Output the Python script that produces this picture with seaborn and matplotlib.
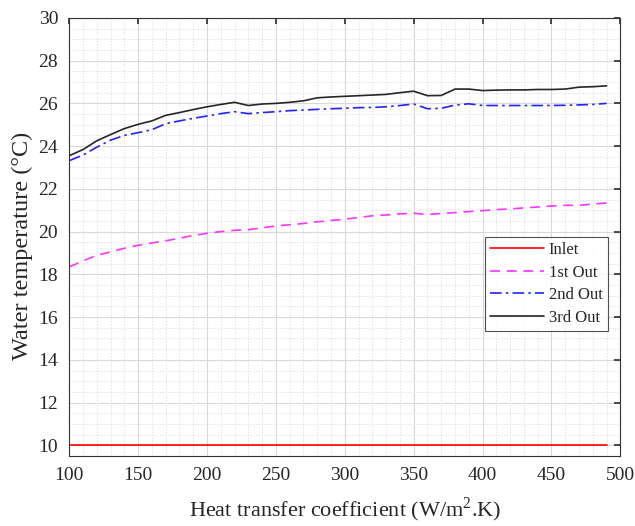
import numpy as np
import pandas as pd
import matplotlib
matplotlib.use("Agg")
import matplotlib.pyplot as plt
import seaborn as sns
from matplotlib.ticker import MultipleLocator

h = [100, 110, 120, 130, 140, 150, 160, 170, 180, 190,
     200, 210, 220, 230, 240, 250, 260, 270, 280, 290,
     300, 310, 320, 330, 340, 350, 360, 370, 380, 390,
     400, 410, 420, 430, 440, 450, 460, 470, 480, 490]

inlet = [10.0] * 40

out1 = [18.35, 18.63, 18.89, 19.05, 19.22, 19.36, 19.47, 19.57, 19.69, 19.82,
        19.92, 20.00, 20.06, 20.09, 20.18, 20.26, 20.32, 20.38, 20.46, 20.52,
        20.58, 20.66, 20.74, 20.78, 20.83, 20.86, 20.80, 20.85, 20.89, 20.94,
        20.98, 21.03, 21.06, 21.11, 21.15, 21.20, 21.23, 21.23, 21.29, 21.34]

out2 = [23.32, 23.58, 23.95, 24.28, 24.50, 24.63, 24.77, 25.05, 25.18, 25.30,
        25.41, 25.52, 25.61, 25.52, 25.57, 25.61, 25.66, 25.69, 25.72, 25.75,
        25.77, 25.80, 25.81, 25.84, 25.90, 25.97, 25.75, 25.77, 25.92, 25.98,
        25.90, 25.90, 25.90, 25.90, 25.90, 25.90, 25.91, 25.93, 25.95, 26.00]

out3 = [23.55, 23.84, 24.25, 24.54, 24.82, 25.02, 25.18, 25.44, 25.57, 25.71,
        25.84, 25.95, 26.05, 25.90, 25.97, 26.00, 26.05, 26.12, 26.26, 26.30,
        26.33, 26.36, 26.39, 26.42, 26.50, 26.57, 26.36, 26.37, 26.67, 26.67,
        26.60, 26.62, 26.63, 26.63, 26.65, 26.65, 26.67, 26.76, 26.78, 26.82]

labels = ["Inlet", "1st Out", "2nd Out", "3rd Out"]

sns.set_theme(style="white")
plt.rcParams['font.family'] = ['Liberation Serif', 'DejaVu Serif']
plt.rcParams['mathtext.fontset'] = 'custom'
plt.rcParams['mathtext.rm'] = 'Liberation Serif'

fig = plt.figure(figsize=(6.35, 5.26), dpi=100)
ax = fig.add_axes([0.109, 0.133, 0.868, 0.833])

series = [inlet, out1, out2, out3]
colors = ["#ff0000", "#ff33ff", "#2222ff", "#262626"]
styles = ["-", (0, (6, 4)), (0, (7, 2.5, 1.5, 2.5)), "-"]
for lab, vals, c, ls in zip(labels, series, colors, styles):
    df = pd.DataFrame({"h": h, "T": vals})
    sns.lineplot(data=df, x="h", y="T", ax=ax, color=c, linestyle=ls,
                 linewidth=1.2, label=lab)

ax.set_xlim(100, 500)
ax.set_ylim(9.5, 30)
ax.xaxis.set_major_locator(MultipleLocator(50))
ax.xaxis.set_minor_locator(MultipleLocator(10))
ax.yaxis.set_major_locator(MultipleLocator(2))
ax.yaxis.set_minor_locator(MultipleLocator(0.5))
ax.grid(True, which="major", color="#d9d9d9", linewidth=0.8, linestyle="-")
ax.grid(True, which="minor", color="#d9d9d9", linewidth=0.6, linestyle=(0, (1.5, 2)))
ax.set_axisbelow(True)
ax.tick_params(which="major", direction="in", top=True, right=True, length=4,
               color="#333333", labelsize=14, pad=8, labelcolor="#262626")
ax.tick_params(which="minor", length=0)
for s in ax.spines.values():
    s.set_color("#333333")
    s.set_linewidth(0.8)

ax.set_xlabel("Heat transfer coefficient (W/m$^2$.K)", fontsize=16, color="#262626", labelpad=8)
ax.set_ylabel("Water temperature (°C)", fontsize=17.5, color="#262626")
ax.yaxis.set_label_coords(-0.065, 0.48)

leg = ax.legend(loc="upper left", bbox_to_anchor=(0.755, 0.5), fontsize=12,
                frameon=True, fancybox=False, edgecolor="#262626",
                borderpad=0.3, labelspacing=0.4, handlelength=3.2,
                handletextpad=0.3, borderaxespad=0)
leg.get_frame().set_linewidth(0.8)
for t in leg.get_texts():
    t.set_color("#262626")

fig.savefig("out.png", dpi=100)
